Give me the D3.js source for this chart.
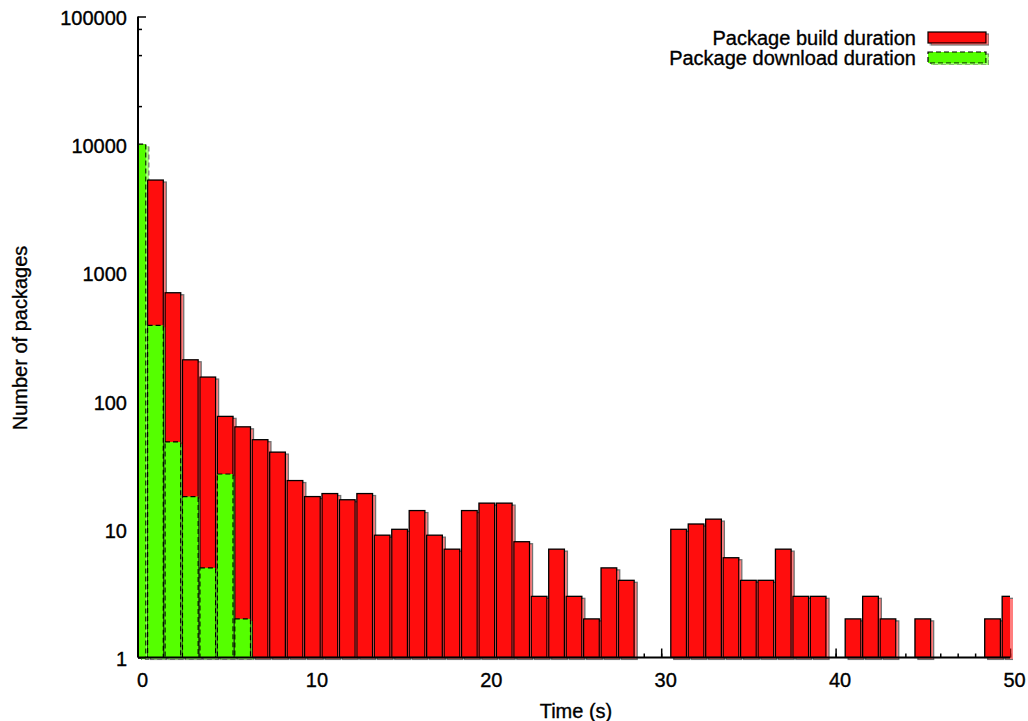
<!DOCTYPE html>
<html>
<head>
<meta charset="utf-8">
<script src="https://cdn.jsdelivr.net/npm/d3@7"></script>
<style>
  body { margin: 0; background: #fff; }
  text { font-family: "Liberation Sans", Arial, Helvetica, sans-serif; fill: #000; stroke: #000; stroke-width: 0.35px; }
</style>
</head>
<body>
<div id="chart"></div>
<script>
// Histogram data: one bin per second
const bins = d3.range(0, 51);
const buildCounts = [0, 5300, 700, 210, 154, 76, 63, 50, 40, 24,
                     18, 19, 17, 19, 9, 10, 14, 9, 7, 14,
                     16, 16, 8, 3, 7, 3, 2, 5, 4, 0,
                     0, 10, 11, 12, 6, 4, 4, 7, 3, 3,
                     0, 2, 3, 2, 0, 2, 0, 0, 0, 2,
                     3];
const downloadCounts = [10100, 390, 48, 18, 5, 27, 2];

const seriesNames = ["Package build duration", "Package download duration"];
const seriesColors = ["#ff1111", "#55ff00"];

const xTicks = [0, 10, 20, 30, 40, 50];
const yTicks = [1, 10, 100, 1000, 10000, 100000];
const yMinor = [2, 5, 8];

// Dimensions
const width = 1028;
const height = 721;
const margin = {left: 138, right: 18, top: 16.5, bottom: 63.5};
const barWidth = 0.9;

const svg = d3.select("#chart")
  .append("svg")
  .attr("width", width)
  .attr("height", height);

const x = d3.scaleLinear()
  .domain([0, 50])
  .range([margin.left, width - margin.right]);

const y = d3.scaleLog()
  .domain([1, 100000])
  .range([height - margin.bottom, margin.top]);

// drop shadow + clip
const defs = svg.append("defs");
defs.append("clipPath").attr("id", "plot-clip")
  .append("rect")
  .attr("x", x(0))
  .attr("y", 0)
  .attr("width", x(50) - x(0))
  .attr("height", y(1) + 1);

const f = defs.append("filter").attr("id", "shadow")
  .attr("x", "-5%").attr("y", "-5%").attr("width", "110%").attr("height", "110%");
f.append("feOffset").attr("in", "SourceGraphic").attr("dx", 2.5).attr("dy", 2).attr("result", "off");
f.append("feColorMatrix").attr("in", "off").attr("type", "matrix")
  .attr("values", "1 0 0 0 0  0 1 0 0 0  0 0 1 0 0  0 0 0 0.55 0").attr("result", "sh");
const fm = f.append("feMerge");
fm.append("feMergeNode").attr("in", "sh");
fm.append("feMergeNode").attr("in", "SourceGraphic");

/*
  Ticks (drawn behind the bars)
*/
svg.append("g")
  .attr("transform", `translate(0,${y(1)})`)
  .call(d3.axisBottom(x).tickValues(bins).tickSize(-4).tickFormat(""))
  .call(g => g.select(".domain").remove())
  .selectAll("line").attr("stroke-width", 1.5);

const xAxis = svg.append("g")
  .attr("transform", `translate(0,${y(1)})`)
  .call(d3.axisBottom(x).tickValues(xTicks).tickSize(-9).tickPadding(15).tickFormat(d3.format("d")))
  .attr("font-size", "20px")
  .attr("font-family", null);
xAxis.select(".domain").remove();
xAxis.selectAll("line").attr("stroke-width", 1.5);
xAxis.selectAll("text").attr("dx", 4);

const yMinorVals = [];
yTicks.slice(0, -1).forEach(t => yMinor.forEach(m => yMinorVals.push(t * m)));

svg.append("g")
  .attr("transform", `translate(${x(0)},0)`)
  .call(d3.axisLeft(y).tickValues(yMinorVals).tickSize(-4).tickFormat(""))
  .call(g => g.select(".domain").remove())
  .selectAll("line").attr("stroke-width", 1.5);

const yAxis = svg.append("g")
  .attr("transform", `translate(${x(0)},0)`)
  .call(d3.axisLeft(y).tickValues(yTicks).tickSize(-8).tickPadding(11).tickFormat(d3.format("d")))
  .attr("font-size", "20px")
  .attr("font-family", null);
yAxis.select(".domain").remove();
yAxis.selectAll("line").attr("stroke-width", 1.5);
yAxis.selectAll("text").attr("dy", "0.4em");

/*
  Bars
*/
const barsLayer = svg.append("g").attr("filter", "url(#shadow)")
  .append("g").attr("clip-path", "url(#plot-clip)");

const buildData = bins.map((b, i) => ({bin: b, count: buildCounts[i]})).filter(d => d.count >= 1);
const downloadData = downloadCounts.map((c, i) => ({bin: bins[i], count: c})).filter(d => d.count >= 1);

barsLayer.selectAll(".build")
  .data(buildData)
  .enter()
  .append("rect")
  .attr("class", "build")
  .attr("x", d => x(d.bin - barWidth / 2))
  .attr("y", d => y(d.count))
  .attr("width", x(barWidth) - x(0))
  .attr("height", d => y(1) - y(d.count))
  .attr("fill", seriesColors[0])
  .attr("stroke", "#000")
  .attr("stroke-width", 1.3);

barsLayer.selectAll(".download")
  .data(downloadData)
  .enter()
  .append("rect")
  .attr("class", "download")
  .attr("x", d => x(d.bin - barWidth / 2))
  .attr("y", d => y(d.count))
  .attr("width", x(barWidth) - x(0))
  .attr("height", d => y(1) - y(d.count))
  .attr("fill", seriesColors[1])
  .attr("stroke", "#000")
  .attr("stroke-width", 1.2)
  .attr("stroke-dasharray", "5,3");

// axis lines on top
svg.append("line")
  .attr("x1", x(0)).attr("x2", x(0))
  .attr("y1", y(100000)).attr("y2", y(1))
  .attr("stroke", "#000").attr("stroke-width", 2);
svg.append("line")
  .attr("x1", x(0)).attr("x2", x(50))
  .attr("y1", y(1)).attr("y2", y(1))
  .attr("stroke", "#000").attr("stroke-width", 2);

/*
  Axis titles
*/
svg.append("text")
  .attr("x", (x(0) + x(50)) / 2 + 2)
  .attr("y", 718)
  .attr("text-anchor", "middle")
  .attr("font-size", "20px")
  .text("Time (s)");

svg.append("text")
  .attr("transform", `translate(27,338) rotate(-90)`)
  .attr("text-anchor", "middle")
  .attr("font-size", "20px")
  .text("Number of packages");

/*
  Legend
*/
const legend = svg.append("g").attr("filter", "url(#shadow)");
seriesNames.forEach((name, i) => {
  const ly = 37.5 + i * 20;
  svg.append("text")
    .attr("x", 916)
    .attr("y", ly + 7)
    .attr("text-anchor", "end")
    .attr("font-size", "20px")
    .text(name);
  legend.append("rect")
    .attr("x", 928)
    .attr("y", ly - 5.5)
    .attr("width", 58)
    .attr("height", 11)
    .attr("fill", seriesColors[i])
    .attr("stroke", "#000")
    .attr("stroke-width", 1.2)
    .attr("stroke-dasharray", i === 1 ? "5,3" : null);
});
</script>
</body>
</html>
